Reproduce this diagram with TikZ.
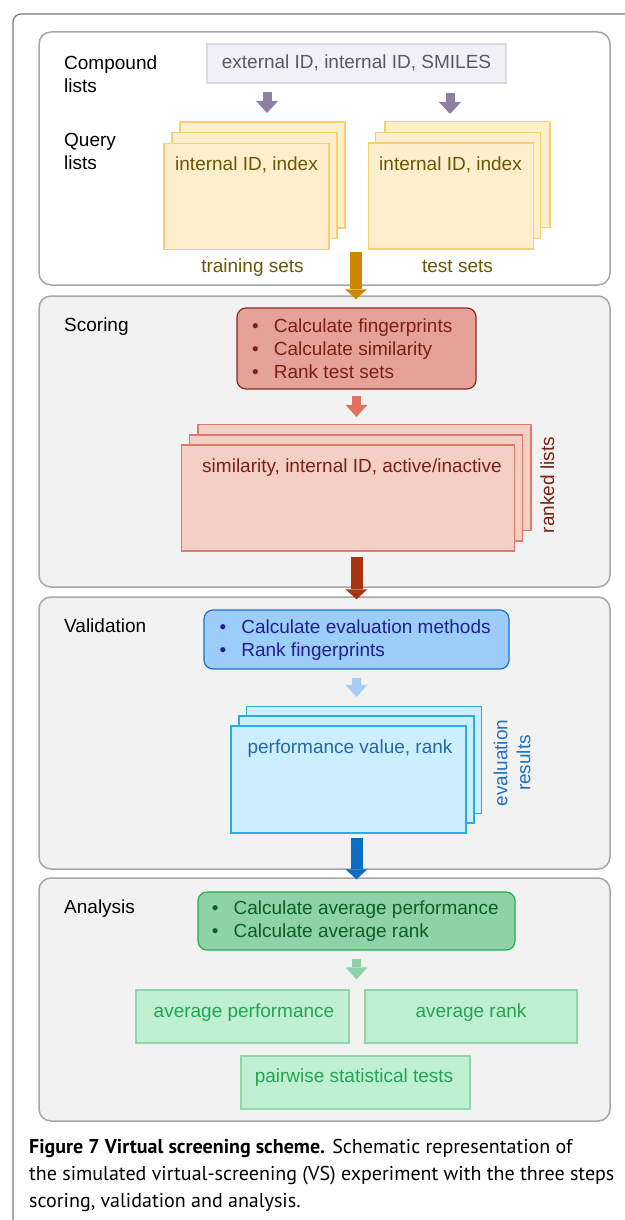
\documentclass[tikz,border=0pt]{standalone}
\usepackage{fontspec}
\setmainfont{Liberation Sans}
\newfontfamily\capfont{PT Sans}
\usetikzlibrary{arrows.meta}
\definecolor{frameline}{RGB}{120,120,120}
\definecolor{secfill}{RGB}{242,242,242}
\definecolor{secline}{RGB}{166,166,166}
\definecolor{cmpfill}{RGB}{240,240,246}
\definecolor{cmpline}{RGB}{217,217,230}
\definecolor{cmptext}{RGB}{89,89,102}
\definecolor{purplearr}{RGB}{141,127,162}
\definecolor{yelfill}{RGB}{253,239,206}
\definecolor{yelline}{RGB}{246,208,112}
\definecolor{yeltext}{RGB}{110,85,0}
\definecolor{goldarr}{RGB}{204,136,0}
\definecolor{redfill}{RGB}{230,162,152}
\definecolor{redline}{RGB}{139,43,32}
\definecolor{redtext}{RGB}{123,32,18}
\definecolor{salmonarr}{RGB}{224,114,100}
\definecolor{rosefill}{RGB}{243,207,198}
\definecolor{roseline}{RGB}{226,120,106}
\definecolor{darkredarr}{RGB}{168,53,16}
\definecolor{bluefill}{RGB}{157,205,249}
\definecolor{blueline}{RGB}{31,111,200}
\definecolor{bluetext}{RGB}{31,31,143}
\definecolor{skyarr}{RGB}{167,205,246}
\definecolor{skyfill}{RGB}{205,238,255}
\definecolor{skyline}{RGB}{39,174,224}
\definecolor{skytext}{RGB}{36,104,168}
\definecolor{bluearr}{RGB}{10,108,194}
\definecolor{greenfill}{RGB}{144,210,168}
\definecolor{greenline}{RGB}{34,176,80}
\definecolor{greentext}{RGB}{11,94,37}
\definecolor{mintfill}{RGB}{192,240,210}
\definecolor{mintline}{RGB}{146,214,168}
\definecolor{minttext}{RGB}{34,165,82}

\tikzset{
  dtext/.style={font=\fontsize{19}{23}\selectfont, inner sep=0pt, text height=14pt, text depth=4pt},
  dblock/.style={font=\fontsize{19}{23}\selectfont, inner sep=0pt, align=left},
  secbox/.style={draw=secline, line width=1.5pt, rounded corners=12pt, fill=secfill},
  sheet/.style={draw=#1line, fill=#1fill, line width=1.2pt, inner sep=0pt},
  tasks/.style={draw=#1line, fill=#1fill, line width=1.2pt, rounded corners=9pt, inner sep=0pt},
  thinarr/.style={draw=#1, line width=9pt, -{Triangle[width=22pt 0 0, length=12pt 0 0, line width=0pt 0 0]}},
  fatarr/.style={draw=#1, line width=12pt, -{Triangle[width=22pt 0 0, length=10pt 0 0, line width=0pt 0 0]}},
  captext/.style={font=\capfont\fontsize{20}{27}\selectfont, inner sep=0pt, anchor=west, text height=14pt, text depth=4pt}
}

\begin{document}
\begin{tikzpicture}[x=1pt, y=-1pt]
  \useasboundingbox (0,0) rectangle (624,1220);
  % journal figure frame
  \draw[frameline, line width=1.2pt, rounded corners=8pt] (13,1225) -- (13,14) -- (630,14);

  % Sections
  \node[secbox, fill=white, minimum width=571pt, minimum height=253pt] (sec1) at (324.5,158.5) {};
  \node[secbox, minimum width=571pt, minimum height=291pt] (sec2) at (324.5,441.5) {};
  \node[secbox, minimum width=571pt, minimum height=272pt] (sec3) at (324.5,733) {};
  \node[secbox, minimum width=571pt, minimum height=243pt] (sec4) at (324.5,999.5) {};

  % Section labels
  \node[dblock, anchor=west] (lcmpd) at (64,74.5) {Compound\\lists};
  \node[dblock, anchor=west] (lquery) at (64,151) {Query\\lists};
  \node[dtext, anchor=west] (lscore) at (64,326) {Scoring};
  \node[dtext, anchor=west] (lvalid) at (64,627) {Validation};
  \node[dtext, anchor=west] (lanaly) at (64,908) {Analysis};

  % Compound and query lists
  \node[draw=cmpline, fill=cmpfill, line width=1.2pt, minimum width=299pt, minimum height=39pt, dtext, text=cmptext] (cmpd) at (356.5,63.5) {external ID, internal ID, SMILES};

  \node[sheet=yel, minimum width=165pt, minimum height=106pt] (trainB) at (262.5,175) {};
  \node[sheet=yel, minimum width=165pt, minimum height=106pt] (trainM) at (254.5,185.5) {};
  \node[sheet=yel, minimum width=165pt, minimum height=106pt] (trainF) at (246.5,196.5) {};
  \node[dtext, text=yeltext] (trainT) at (246.5,165) {internal ID, index};
  \node[dtext, text=yeltext] (trainL) at (252.5,267) {training sets};

  \node[sheet=yel, minimum width=165pt, minimum height=106pt] (testB) at (467.5,174.5) {};
  \node[sheet=yel, minimum width=165pt, minimum height=106pt] (testM) at (458,185.5) {};
  \node[sheet=yel, minimum width=165pt, minimum height=106pt] (testF) at (451,196) {};
  \node[dtext, text=yeltext] (testT) at (450.5,165) {internal ID, index};
  \node[dtext, text=yeltext] (testL) at (457.5,267) {test sets};

  \coordinate (trainIn) at (267,122);
  \coordinate (testIn) at (450,121);
  \coordinate (setsOut) at (356,252);
  \draw[thinarr=purplearr, shorten <=8pt, shorten >=9pt] (cmpd.south -| trainIn) -- (trainIn);
  \draw[thinarr=purplearr, shorten <=9pt, shorten >=7pt] (cmpd.south -| testIn) -- (testIn);
  \draw[fatarr=goldarr, shorten >=-4pt] (setsOut) -- (sec2.north -| setsOut);

  % Scoring
  \node[tasks=red, minimum width=239pt, minimum height=81pt] (redbox) at (356.5,348.5) {};
  \node[dblock, text=redtext, anchor=west] (redT) at (252,349) {\textbullet\hspace{15pt}Calculate fingerprints\\\textbullet\hspace{15pt}Calculate similarity\\\textbullet\hspace{15pt}Rank test sets};

  \node[sheet=rose, minimum width=333pt, minimum height=106pt] (roseB) at (364.5,477.5) {};
  \node[sheet=rose, minimum width=333pt, minimum height=106pt] (roseM) at (356,488) {};
  \node[sheet=rose, minimum width=333pt, minimum height=106pt] (roseF) at (348,498) {};
  \node[dtext, text=redtext] (roseT) at (352,467) {similarity, internal ID, active/inactive};
  \node[dtext, text=redtext, rotate=90] (roseL) at (549,485) {ranked lists};

  \draw[thinarr=salmonarr, shorten <=6pt, shorten >=7pt] (redbox.south) -- (redbox.south |- roseB.north);
  \draw[fatarr=darkredarr, shorten <=5pt, shorten >=-3pt] (redbox.south |- roseF.south) -- (redbox.south |- sec3.north);

  % Validation
  \node[tasks=blue, minimum width=305pt, minimum height=59pt] (bluebox) at (356.5,639.5) {};
  \node[dblock, text=bluetext, anchor=west] (blueT) at (219.5,640) {\textbullet\hspace{15pt}Calculate evaluation methods\\\textbullet\hspace{15pt}Rank fingerprints};

  \node[sheet=sky, minimum width=235pt, minimum height=107pt] (skyB) at (364,760) {};
  \node[sheet=sky, minimum width=235pt, minimum height=107pt] (skyM) at (356.5,769.5) {};
  \node[sheet=sky, minimum width=235pt, minimum height=107pt] (skyF) at (348.5,779.5) {};
  \node[dtext, text=skytext] (skyT) at (350,748) {performance value, rank};
  \node[dblock, align=center, text=blueline, rotate=90] (skyL) at (512,763) {evaluation\\results};

  \draw[thinarr=skyarr, shorten <=8pt, shorten >=9pt] (bluebox.south) -- (bluebox.south |- skyB.north);
  \draw[fatarr=bluearr, shorten <=4pt, shorten >=-2pt] (bluebox.south |- skyF.south) -- (bluebox.south |- sec4.north);

  % Analysis
  \node[tasks=green, minimum width=317pt, minimum height=58pt] (greenbox) at (356.5,921) {};
  \node[dblock, text=greentext, anchor=west] (greenT) at (211.7,921.5) {\textbullet\hspace{15pt}Calculate average performance\\\textbullet\hspace{15pt}Calculate average rank};

  \node[sheet=mint, minimum width=213pt, minimum height=53pt] (avgP) at (242.5,1016.5) {};
  \node[sheet=mint, minimum width=212pt, minimum height=53pt] (avgR) at (471,1016.5) {};
  \node[sheet=mint, minimum width=229pt, minimum height=53pt] (pairT) at (355.5,1082.5) {};
  \node[dtext, text=minttext] at (244,1012) {average performance};
  \node[dtext, text=minttext] at (471,1012) {average rank};
  \node[dtext, text=minttext] at (354,1077) {pairwise statistical tests};

  \draw[thinarr=greenfill, shorten <=8pt, shorten >=10pt] (greenbox.south) -- (greenbox.south |- avgP.north);

  % Caption
  \node[captext] (cap1) at (29,1148) {\textbf{Figure 7 Virtual screening scheme.} Schematic representation of};
  \node[captext] (cap2) at (29,1175) {the simulated virtual-screening (VS) experiment with the three steps};
  \node[captext] (cap3) at (29,1202) {scoring, validation and analysis.};
\end{tikzpicture}
\end{document}
